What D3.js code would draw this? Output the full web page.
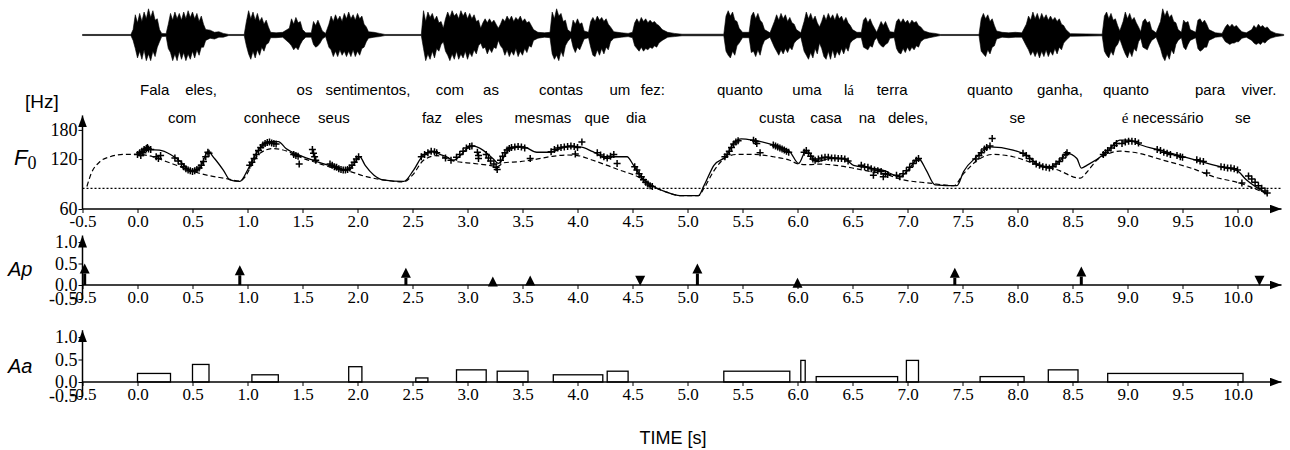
<!DOCTYPE html>
<html>
<head>
<meta charset="utf-8">
<script src="https://cdn.jsdelivr.net/npm/d3@7"></script>
<style>
  body { margin: 0; background: #fff; }
  svg { display: block; }
</style>
</head>
<body>
<div id="app"></div>
<script>
// ---- data (times in seconds) ----
const xTicks = [-0.5, 0.0, 0.5, 1.0, 1.5, 2.0, 2.5, 3.0, 3.5, 4.0, 4.5, 5.0, 5.5, 6.0, 6.5, 7.0, 7.5, 8.0, 8.5, 9.0, 9.5, 10.0];
const f0Ticks = [60, 120, 180];
const cmdTicks = [-0.5, 0.0, 0.5, 1.0];
const fb = 80; // baseline frequency [Hz]

const wordsTop = ['Fala', 'eles,', 'os', 'sentimentos,', 'com', 'as', 'contas', 'um', 'fez:', 'quanto', 'uma', 'lá', 'terra', 'quanto', 'ganha,', 'quanto', 'para', 'viver.'];
const wordsTopT = [0.156, 0.577, 1.518, 2.095, 2.84, 3.214, 3.85, 4.386, 4.686, 5.477, 6.086, 6.468, 6.86, 7.75, 8.386, 8.986, 9.75, 10.195];
const wordsBottom = ['com', 'conhece', 'seus', 'faz', 'eles', 'mesmas', 'que', 'dia', 'custa', 'casa', 'na', 'deles,', 'se', 'é necessário', 'se'];
const wordsBottomT = [0.405, 1.223, 1.786, 2.677, 3.014, 3.686, 4.177, 4.532, 5.814, 6.259, 6.632, 7.005, 8.0, 9.32, 10.05];

// speech waveform envelope: [time, upper, lower] (relative amplitude)
const waveEnv = [
  [-0.5, .02, .02], [-0.06, .02, .02],
  [-0.04, .2, .2], [-0.02, .75, .5], [0, .45, .85], [0.02, .8, .6], [0.04, .5, .9], [0.06, .85, .55], [0.08, .6, .95], [0.1, .97, .7], [0.12, .65, .95], [0.14, .9, .6], [0.16, .55, .8], [0.18, .6, .45], [0.2, .2, .25], [0.22, .06, .06],
  [0.26, .05, .05], [0.28, .4, .5], [0.3, .8, .65], [0.32, .55, .95], [0.34, .85, .7], [0.36, .6, .95], [0.38, .8, .6], [0.4, .55, .9], [0.42, .85, .65], [0.44, .6, .95], [0.46, .9, .7], [0.48, .65, .9], [0.5, .85, .6], [0.52, .6, .85], [0.54, .8, .55], [0.56, .5, .75], [0.58, .7, .45], [0.6, .4, .45], [0.62, .2, .2], [0.66, .18, .12], [0.7, .1, .15], [0.74, .12, .08], [0.78, .06, .08], [0.83, .02, .02],
  [0.97, .02, .02], [0.99, .5, .4], [1.01, .9, .7], [1.03, .6, .9], [1.05, .85, .6], [1.07, .55, .85], [1.09, .8, .55], [1.11, .5, .75], [1.13, .65, .45], [1.15, .4, .6], [1.17, .55, .35], [1.19, .3, .3], [1.21, .1, .1],
  [1.26, .08, .1], [1.32, .1, .08], [1.38, .25, .3], [1.4, .6, .4], [1.42, .4, .55], [1.44, .65, .45], [1.46, .45, .55], [1.48, .5, .35], [1.5, .2, .2], [1.53, .08, .08],
  [1.58, .08, .08], [1.6, .5, .35], [1.62, .35, .45], [1.64, .55, .4], [1.66, .35, .3], [1.68, .15, .15], [1.71, .06, .06],
  [1.74, .4, .45], [1.76, .7, .55], [1.78, .5, .8], [1.8, .75, .6], [1.82, .55, .8], [1.84, .7, .55], [1.86, .5, .75], [1.88, .8, .6], [1.9, .6, .8], [1.92, .85, .6], [1.94, .6, .8], [1.96, .75, .55], [1.98, .55, .8], [2.0, .8, .6], [2.02, .6, .75], [2.04, .7, .5], [2.06, .4, .45], [2.08, .3, .25], [2.1, .12, .12], [2.15, .1, .08], [2.2, .06, .06], [2.25, .02, .02],
  [2.58, .02, .02], [2.6, .9, .5], [2.62, .5, .95], [2.64, .85, .7], [2.66, .65, .9], [2.68, .8, .6], [2.7, .55, .85], [2.72, .7, .5], [2.74, .45, .6], [2.76, .5, .35], [2.78, .25, .25],
  [2.8, .6, .6], [2.82, .85, .75], [2.84, .65, .95], [2.86, .9, .7], [2.88, .7, .9], [2.9, .8, .6], [2.92, .6, .9], [2.94, .9, .7], [2.96, .7, .85], [2.98, .85, .6], [3.0, .6, .9], [3.02, .8, .65], [3.04, .6, .8], [3.06, .75, .55], [3.08, .5, .7], [3.1, .55, .4], [3.12, .25, .3],
  [3.14, .45, .5], [3.16, .6, .45], [3.18, .45, .7], [3.2, .6, .5], [3.22, .45, .65], [3.24, .55, .45], [3.26, .4, .5], [3.28, .25, .2],
  [3.3, .4, .4], [3.32, .6, .5], [3.34, .5, .75], [3.36, .7, .55], [3.38, .55, .8], [3.4, .7, .6], [3.42, .5, .75], [3.44, .65, .5], [3.46, .55, .8], [3.48, .7, .6], [3.5, .5, .75], [3.52, .6, .5], [3.54, .45, .65], [3.56, .5, .4], [3.58, .35, .45], [3.6, .2, .2], [3.64, .1, .12], [3.7, .08, .08],
  [3.75, .1, .1], [3.77, .85, .7], [3.79, .6, .9], [3.81, .97, .75], [3.83, .7, .95], [3.85, .8, .6], [3.87, .5, .8], [3.89, .55, .4], [3.91, .2, .25],
  [3.94, .1, .1], [3.96, .55, .45], [3.98, .4, .65], [4.0, .6, .45], [4.02, .4, .55], [4.04, .45, .35], [4.06, .15, .15],
  [4.1, .1, .1], [4.12, .5, .45], [4.14, .65, .75], [4.16, .5, .8], [4.18, .7, .55], [4.2, .55, .75], [4.22, .65, .5], [4.24, .5, .7], [4.26, .6, .45], [4.28, .4, .55], [4.3, .3, .25], [4.33, .12, .12], [4.4, .08, .08], [4.46, .06, .06],
  [4.5, .1, .1], [4.52, .45, .4], [4.54, .6, .5], [4.56, .45, .6], [4.58, .65, .45], [4.6, .5, .6], [4.62, .6, .5], [4.64, .45, .55], [4.66, .55, .45], [4.68, .45, .5], [4.7, .5, .4], [4.72, .4, .45], [4.74, .35, .3], [4.77, .2, .2], [4.82, .1, .08], [4.88, .06, .06], [4.95, .03, .03],
  [5.33, .03, .03], [5.35, .7, .6], [5.37, .9, .75], [5.39, .7, .85], [5.41, .85, .6], [5.43, .55, .75], [5.45, .5, .4], [5.47, .25, .3], [5.5, .1, .1],
  [5.56, .1, .1], [5.58, .7, .65], [5.6, .85, .6], [5.62, .6, .8], [5.64, .8, .55], [5.66, .55, .75], [5.68, .45, .4], [5.7, .2, .2], [5.75, .08, .08],
  [5.79, .5, .45], [5.81, .75, .6], [5.83, .55, .75], [5.85, .8, .55], [5.87, .6, .7], [5.89, .75, .5], [5.91, .5, .65], [5.93, .65, .45], [5.95, .45, .55], [5.97, .4, .3], [5.99, .2, .2], [6.03, .08, .08],
  [6.06, .5, .6], [6.08, .85, .75], [6.1, .6, .9], [6.12, .8, .65], [6.14, .55, .85], [6.16, .7, .5], [6.18, .45, .7], [6.2, .3, .3],
  [6.22, .5, .5], [6.24, .75, .8], [6.26, .55, .9], [6.28, .8, .6], [6.3, .6, .9], [6.32, .75, .55], [6.34, .55, .85], [6.36, .8, .6], [6.38, .6, .75], [6.4, .7, .5], [6.42, .5, .7], [6.44, .65, .45], [6.46, .45, .6], [6.48, .35, .3], [6.5, .2, .2], [6.54, .1, .1],
  [6.58, .1, .1], [6.6, .55, .45], [6.62, .65, .5], [6.64, .45, .55], [6.66, .6, .4], [6.68, .4, .45], [6.7, .25, .2], [6.72, .1, .1],
  [6.74, .3, .3], [6.76, .5, .4], [6.78, .35, .45], [6.8, .5, .35], [6.82, .3, .3], [6.84, .12, .12],
  [6.88, .1, .1], [6.9, .5, .5], [6.92, .6, .65], [6.94, .45, .7], [6.96, .6, .5], [6.98, .45, .65], [7.0, .55, .45], [7.02, .4, .6], [7.04, .55, .45], [7.06, .45, .55], [7.08, .5, .4], [7.1, .35, .45], [7.12, .3, .25], [7.15, .15, .15], [7.2, .08, .1], [7.25, .06, .06], [7.3, .02, .02],
  [7.65, .02, .02], [7.67, .6, .6], [7.69, .8, .7], [7.71, .6, .8], [7.73, .75, .55], [7.75, .5, .7], [7.77, .6, .45], [7.79, .35, .4], [7.81, .15, .15], [7.86, .1, .08], [7.92, .08, .1], [7.98, .1, .08], [8.04, .08, .08],
  [8.08, .4, .4], [8.1, .7, .55], [8.12, .55, .75], [8.14, .85, .6], [8.16, .6, .8], [8.18, .8, .6], [8.2, .55, .85], [8.22, .8, .6], [8.24, .6, .8], [8.26, .75, .55], [8.28, .55, .8], [8.3, .7, .6], [8.32, .55, .75], [8.34, .65, .5], [8.36, .5, .7], [8.38, .6, .45], [8.4, .4, .55], [8.42, .35, .3], [8.44, .2, .2], [8.48, .05, .05],
  [8.77, .03, .03], [8.79, .7, .6], [8.81, .85, .75], [8.83, .6, .85], [8.85, .8, .6], [8.87, .55, .75], [8.89, .6, .45], [8.91, .35, .35], [8.93, .15, .15],
  [8.96, .5, .5], [8.98, .85, .7], [9.0, .6, .85], [9.02, .8, .6], [9.04, .55, .8], [9.06, .65, .5], [9.08, .45, .6], [9.1, .3, .25], [9.12, .12, .12],
  [9.14, .5, .45], [9.16, .6, .5], [9.18, .45, .55], [9.2, .5, .35], [9.22, .2, .2], [9.26, .08, .08],
  [9.3, .5, .5], [9.32, .97, .8], [9.34, .7, .95], [9.36, .9, .7], [9.38, .65, .9], [9.4, .75, .55], [9.42, .5, .7], [9.44, .45, .35], [9.46, .2, .2],
  [9.49, .1, .1], [9.51, .55, .45], [9.53, .45, .55], [9.55, .5, .35], [9.57, .2, .2],
  [9.62, .1, .1], [9.64, .55, .5], [9.66, .6, .6], [9.68, .45, .55], [9.7, .55, .45], [9.72, .4, .45], [9.74, .2, .2], [9.8, .08, .08], [9.86, .06, .06],
  [9.89, .3, .25], [9.91, .4, .3], [9.93, .3, .35], [9.95, .4, .3], [9.97, .3, .3], [9.99, .35, .25], [10.01, .25, .25], [10.04, .12, .12], [10.08, .08, .08],
  [10.13, .2, .2], [10.15, .35, .3], [10.17, .25, .35], [10.19, .4, .3], [10.21, .3, .35], [10.23, .35, .25], [10.25, .25, .3], [10.27, .3, .2], [10.3, .15, .12], [10.35, .06, .06], [10.42, .02, .02],
];

// model F0 contour [time, Hz]
const f0Model = [
  [0.00, 128], [0.11, 137], [0.20, 136], [0.30, 128], [0.39, 116], [0.46, 104], [0.51, 101], [0.57, 106.5], [0.64, 133], [0.70, 121],
  [0.78, 103], [0.84, 90], [0.93, 88], [1.01, 106], [1.08, 130], [1.14, 146], [1.20, 153], [1.28, 153], [1.35, 139], [1.48, 126],
  [1.63, 116], [1.78, 108], [1.89, 103], [1.96, 110], [2.02, 124], [2.07, 110], [2.15, 96], [2.23, 90], [2.42, 88], [2.51, 103],
  [2.60, 127], [2.69, 133], [2.75, 128], [2.81, 124], [2.87, 118], [3.04, 144], [3.14, 136], [3.23, 121], [3.28, 113], [3.39, 139],
  [3.51, 142], [3.63, 132], [3.75, 132], [3.90, 142], [4.02, 142], [4.14, 133], [4.27, 121], [4.33, 124], [4.45, 124], [4.51, 110],
  [4.60, 90], [4.69, 82], [4.81, 75.8], [4.93, 72.3], [5.10, 72.3], [5.15, 83], [5.24, 110], [5.36, 127], [5.42, 150], [5.49, 159],
  [5.60, 156], [5.78, 146], [5.93, 133], [6.01, 113], [6.08, 136], [6.17, 116], [6.30, 121], [6.42, 121], [6.51, 110], [6.66, 106],
  [6.81, 101], [6.84, 98.6], [6.93, 94], [7.02, 106], [7.10, 121], [7.17, 103], [7.25, 84], [7.45, 83], [7.51, 101], [7.63, 124],
  [7.75, 142], [7.96, 136], [8.08, 127], [8.20, 110], [8.30, 108], [8.39, 118], [8.45, 130], [8.54, 121], [8.58, 106], [8.63, 110],
  [8.81, 132], [8.93, 156], [9.02, 156], [9.11, 147], [9.33, 134], [9.63, 118], [9.90, 106], [9.99, 103], [10.08, 90], [10.27, 74],
];

// phrase component + Fb [time, Hz]
const f0Phrase = [
  [-0.46, 82], [-0.42, 98.5], [-0.34, 116], [-0.25, 124], [-0.13, 128], [0.0, 128], [0.14, 124], [0.26, 116], [0.39, 108], [0.51, 101],
  [0.63, 96], [0.81, 91.5], [0.93, 88.5], [0.98, 94], [1.03, 108], [1.10, 128], [1.23, 139], [1.36, 134], [1.48, 123], [1.63, 114],
  [1.78, 106], [1.93, 101], [2.08, 94], [2.23, 90], [2.42, 87.5], [2.5, 96], [2.6, 118], [2.72, 126], [2.87, 117], [3.05, 113],
  [3.2, 110], [3.27, 108], [3.33, 114], [3.48, 116], [3.6, 119], [3.75, 124], [3.9, 127], [4.0, 126], [4.14, 118], [4.27, 110],
  [4.4, 102], [4.5, 97], [4.6, 90], [4.69, 82], [4.81, 75.8], [4.93, 72.3], [5.10, 72.3], [5.15, 80], [5.24, 102], [5.36, 124],
  [5.45, 128], [5.6, 128], [5.78, 124], [5.93, 118], [6.01, 112], [6.1, 111], [6.2, 112], [6.35, 110], [6.5, 106], [6.66, 101],
  [6.81, 97], [6.93, 91], [7.2, 86], [7.42, 83], [7.51, 98], [7.66, 121], [7.78, 128], [7.96, 124], [8.2, 110], [8.35, 104],
  [8.57, 92], [8.63, 100], [8.72, 118], [8.81, 128], [8.93, 134], [9.05, 132], [9.33, 118], [9.63, 103], [9.78, 94], [10.02, 86],
  [10.15, 80], [10.27, 74],
];

// observed F0 points [time, Hz]
const f0Obs = [
  [0.00, 128], [0.02, 131], [0.03, 126], [0.04, 134], [0.05, 131], [0.06, 137], [0.08, 139], [0.09, 141], [0.10, 138], [0.12, 137],
  [0.17, 124], [0.19, 121], [0.21, 126],
  [0.34, 122], [0.37, 117], [0.40, 112], [0.42, 108], [0.44, 105], [0.46, 103], [0.48, 102], [0.50, 101], [0.52, 102], [0.54, 104],
  [0.56, 106], [0.58, 110], [0.60, 116], [0.62, 124], [0.64, 132], [0.65, 130],
  [1.02, 110], [1.04, 115], [1.06, 121], [1.08, 128], [1.10, 135], [1.12, 141], [1.14, 146], [1.16, 149], [1.18, 151], [1.20, 152],
  [1.22, 150], [1.24, 149], [1.26, 148],
  [1.42, 128], [1.44, 126], [1.46, 125], [1.47, 112],
  [1.59, 137], [1.60, 130], [1.61, 124], [1.62, 118],
  [1.75, 112], [1.77, 110], [1.79, 108], [1.81, 107], [1.83, 105], [1.85, 104], [1.87, 103], [1.89, 103], [1.91, 104],
  [1.93, 106], [1.95, 110], [1.97, 115], [1.99, 120], [2.01, 124],
  [2.58, 124], [2.61, 128], [2.64, 131], [2.67, 134], [2.70, 133], [2.72, 131],
  [2.80, 122], [2.85, 118], [2.90, 123], [2.93, 128], [2.96, 134], [2.99, 140], [3.02, 143], [3.04, 144],
  [3.09, 132], [3.10, 126], [3.10, 121],
  [3.17, 128], [3.19, 122], [3.21, 117], [3.24, 112], [3.26, 107], [3.27, 104],
  [3.30, 118], [3.32, 125], [3.34, 131], [3.36, 136], [3.38, 139], [3.40, 141], [3.43, 142], [3.46, 143], [3.49, 142], [3.52, 140], [3.57, 121],
  [3.76, 133], [3.79, 137], [3.82, 140], [3.85, 141], [3.88, 142], [3.91, 143], [3.94, 144], [3.97, 143], [4.00, 141], [3.98, 129], [4.04, 152],
  [4.18, 131], [4.21, 127], [4.24, 124], [4.27, 122], [4.30, 125], [4.33, 128], [4.36, 113],
  [4.52, 108], [4.54, 103], [4.56, 98], [4.58, 94], [4.60, 90], [4.62, 87], [4.64, 85], [4.66, 83], [4.68, 82],
  [5.34, 124], [5.36, 128], [5.38, 134], [5.40, 141], [5.42, 148], [5.44, 152], [5.46, 155],
  [5.60, 156], [5.62, 153], [5.63, 149], [5.66, 131],
  [5.78, 146], [5.80, 144], [5.82, 142], [5.84, 140], [5.86, 138], [5.88, 136], [5.90, 134], [5.92, 132],
  [6.06, 132], [6.08, 135], [6.10, 130], [6.12, 125], [6.14, 120], [6.16, 118], [6.19, 120], [6.22, 122], [6.25, 123], [6.28, 123],
  [6.31, 122], [6.34, 122], [6.37, 121], [6.40, 121], [6.43, 120], [6.46, 117],
  [6.58, 110], [6.61, 108], [6.64, 107], [6.67, 105], [6.69, 96], [6.70, 103], [6.73, 102], [6.76, 101], [6.78, 94], [6.80, 98], [6.82, 97],
  [6.90, 96], [6.93, 94], [6.96, 98], [6.99, 102], [7.02, 107], [7.05, 113], [7.08, 118], [7.10, 121],
  [7.62, 120], [7.65, 126], [7.67, 131], [7.70, 138], [7.72, 141], [7.75, 144], [7.77, 160],
  [8.05, 130], [8.08, 126], [8.11, 121], [8.14, 116], [8.17, 112], [8.20, 110], [8.23, 108], [8.26, 107], [8.29, 106], [8.32, 108],
  [8.35, 112], [8.38, 116], [8.41, 122], [8.44, 128], [8.45, 131],
  [8.78, 128], [8.80, 131], [8.82, 135], [8.85, 140], [8.88, 145], [8.90, 149],
  [8.95, 149], [8.98, 152], [9.01, 154], [9.04, 154], [9.07, 153], [9.10, 150],
  [9.27, 137], [9.30, 135], [9.33, 132], [9.36, 130], [9.39, 128],
  [9.45, 126], [9.48, 124], [9.50, 123],
  [9.63, 119], [9.66, 117], [9.69, 116], [9.72, 99],
  [9.85, 108], [9.88, 107], [9.91, 106], [9.94, 106], [9.97, 105], [10.00, 103],
  [10.04, 86], [10.10, 95], [10.13, 91], [10.16, 87], [10.19, 83], [10.22, 80], [10.25, 77], [10.27, 75],
];

// phrase commands
const apT = [-0.48, 0.93, 2.44, 3.23, 3.57, 4.57, 5.09, 6.0, 7.43, 8.58, 10.2];
const apV = [0.5, 0.46, 0.4, 0.2, 0.22, -0.03, 0.5, 0.17, 0.4, 0.43, -0.03];

// accent commands
const aaOn = [0.0, 0.5, 1.04, 1.92, 2.53, 2.9, 3.27, 3.78, 4.27, 5.33, 6.03, 6.17, 6.99, 7.66, 8.28, 8.82];
const aaOff = [0.3, 0.65, 1.28, 2.04, 2.64, 3.17, 3.55, 4.23, 4.46, 5.93, 6.07, 6.91, 7.1, 8.06, 8.55, 10.05];
const aaV = [0.19, 0.39, 0.16, 0.34, 0.09, 0.27, 0.24, 0.16, 0.24, 0.24, 0.48, 0.12, 0.48, 0.12, 0.27, 0.19];

// ---- layout ----
const W = 1290;
const H = 450;
const serif = '"Liberation Serif", "Times New Roman", serif';
const sans = '"Liberation Sans", Arial, sans-serif';
const tMax = 10.4; // arrow end of time axes

const svg = d3.select('#app').append('svg')
  .attr('width', W)
  .attr('height', H);

svg.append('defs').append('marker')
  .attr('id', 'arrow')
  .attr('markerUnits', 'userSpaceOnUse')
  .attr('markerWidth', 13)
  .attr('markerHeight', 10)
  .attr('refX', 12)
  .attr('refY', 4.5)
  .attr('orient', 'auto')
  .append('path')
  .attr('d', 'M0,0L12,4.5L0,9Z')
  .attr('fill', '#000');

const x = d3.scaleLinear().domain([-0.5, 10]).range([82.5, 1237.5]);
const yWave = d3.scaleLinear().domain([-1, 1]).range([62, 8]);
const yF = d3.scaleLog().domain([60, 180]).range([209, 209 - 72 * Math.log(3)]);
const yAp = d3.scaleLinear().domain([-0.5, 0, 1]).range([299, 285, 242]);
const yAa = d3.scaleLinear().domain([-0.5, 0, 1]).range([396, 382, 337]);

// waveform
svg.append('path')
  .datum(waveEnv)
  .attr('d', d3.area()
    .x(d => x(d[0]))
    .y0(d => yWave(-d[2]))
    .y1(d => yWave(d[1])))
  .attr('fill', '#000')
  .attr('stroke', '#000')
  .attr('stroke-width', 0.6);

// words
function drawWords(words, times, baseline) {
  words.forEach((w, i) => {
    const t = svg.append('text')
      .attr('x', x(times[i]))
      .attr('y', baseline)
      .attr('text-anchor', 'middle')
      .attr('font-family', sans)
      .attr('font-size', 15)
      .attr('fill', '#000');
    w.split(/([éá])/).filter(s => s.length).forEach((s) => {
      t.append('tspan')
        .attr('font-family', /[éá]/.test(s) ? serif : sans)
        .text(s);
    });
  });
}
drawWords(wordsTop, wordsTopT, 95);
drawWords(wordsBottom, wordsBottomT, 123);

// axes helpers
function timeAxis(y0) {
  const g = svg.append('g')
    .attr('transform', `translate(0,${y0})`)
    .call(d3.axisBottom(x).tickValues(xTicks).tickSize(4).tickPadding(2)
      .tickFormat(d => d.toFixed(1)));
  g.select('.domain').remove();
  g.selectAll('line').attr('stroke', '#000');
  g.selectAll('text')
    .attr('font-family', serif)
    .attr('font-size', 17)
    .attr('fill', '#000');
  svg.append('line')
    .attr('x1', x(-0.5)).attr('x2', x(tMax))
    .attr('y1', y0).attr('y2', y0)
    .attr('stroke', '#000')
    .attr('stroke-width', 1.5)
    .attr('marker-end', 'url(#arrow)');
}

function valueAxis(scale, ticks, fmt, yBottom, yTop) {
  const g = svg.append('g')
    .attr('transform', `translate(${x(-0.5)},0)`)
    .call(d3.axisLeft(scale).tickValues(ticks).tickSize(4).tickPadding(1).tickFormat(fmt));
  g.select('.domain').remove();
  g.selectAll('line').attr('stroke', '#000');
  g.selectAll('text')
    .attr('font-family', serif)
    .attr('font-size', 18)
    .attr('fill', '#000');
  svg.append('line')
    .attr('x1', x(-0.5)).attr('x2', x(-0.5))
    .attr('y1', yBottom).attr('y2', yTop)
    .attr('stroke', '#000')
    .attr('stroke-width', 1.5)
    .attr('marker-end', 'url(#arrow)');
}

// ---- F0 panel ----
svg.append('text')
  .attr('x', 25).attr('y', 108)
  .attr('font-family', sans).attr('font-size', 19)
  .text('[Hz]');
const f0Label = svg.append('text')
  .attr('x', 14).attr('y', 165)
  .attr('font-family', sans).attr('font-size', 22);
f0Label.append('tspan').attr('font-style', 'italic').text('F');
f0Label.append('tspan').attr('font-family', serif).attr('font-size', 18).attr('dy', 4).text('0');

valueAxis(yF, f0Ticks, d => d, yF(60), yF(220));
timeAxis(yF(60));

svg.append('line')
  .attr('x1', x(-0.5)).attr('x2', x(tMax))
  .attr('y1', yF(fb)).attr('y2', yF(fb))
  .attr('stroke', '#000')
  .attr('stroke-width', 1.2)
  .attr('stroke-dasharray', '2,2');

svg.append('path')
  .datum(f0Phrase)
  .attr('d', d3.line().x(d => x(d[0])).y(d => yF(d[1])).curve(d3.curveMonotoneX))
  .attr('fill', 'none')
  .attr('stroke', '#000')
  .attr('stroke-width', 1.2)
  .attr('stroke-dasharray', '5,3');

svg.append('path')
  .datum(f0Model)
  .attr('d', d3.line().x(d => x(d[0])).y(d => yF(d[1])).curve(d3.curveMonotoneX))
  .attr('fill', 'none')
  .attr('stroke', '#000')
  .attr('stroke-width', 1.3);

svg.append('g')
  .selectAll('path')
  .data(f0Obs)
  .join('path')
  .attr('transform', d => `translate(${x(d[0])},${yF(d[1])})`)
  .attr('d', 'M-3.5,0H3.5M0,-3.5V3.5')
  .attr('stroke', '#000')
  .attr('stroke-width', 1.5);

// ---- Ap panel ----
svg.append('text')
  .attr('x', 8).attr('y', yAp(0) - 9)
  .attr('font-family', sans).attr('font-size', 20).attr('font-style', 'italic')
  .text('Ap');
valueAxis(yAp, cmdTicks, d => d.toFixed(1), yAp(-0.5), yAp(1.15));
timeAxis(yAp(0));

const headH = 10;
const headW = 5;
apT.forEach((t, i) => {
  const v = apV[i];
  const cx = x(t);
  const tip = yAp(v);
  const dir = v >= 0 ? 1 : -1;
  const base = tip + dir * headH;
  if (dir * (yAp(0) - base) > 0) {
    svg.append('line')
      .attr('x1', cx).attr('x2', cx)
      .attr('y1', yAp(0)).attr('y2', base)
      .attr('stroke', '#000')
      .attr('stroke-width', 3);
  }
  svg.append('path')
    .attr('d', `M${cx},${tip}L${cx - headW},${base}L${cx + headW},${base}Z`)
    .attr('fill', '#000');
});

// ---- Aa panel ----
svg.append('text')
  .attr('x', 8).attr('y', yAa(0) - 9)
  .attr('font-family', sans).attr('font-size', 20).attr('font-style', 'italic')
  .text('Aa');
valueAxis(yAa, cmdTicks, d => d.toFixed(1), yAa(-0.5), yAa(1.15));

svg.append('g')
  .selectAll('rect')
  .data(aaV)
  .join('rect')
  .attr('x', (d, i) => x(aaOn[i]))
  .attr('width', (d, i) => x(aaOff[i]) - x(aaOn[i]))
  .attr('y', d => yAa(d))
  .attr('height', d => yAa(0) - yAa(d))
  .attr('fill', '#fff')
  .attr('stroke', '#000')
  .attr('stroke-width', 1.3);

timeAxis(yAa(0));

svg.append('text')
  .attr('x', 673).attr('y', 444)
  .attr('text-anchor', 'middle')
  .attr('font-family', sans).attr('font-size', 18)
  .text('TIME [s]');
</script>
</body>
</html>
